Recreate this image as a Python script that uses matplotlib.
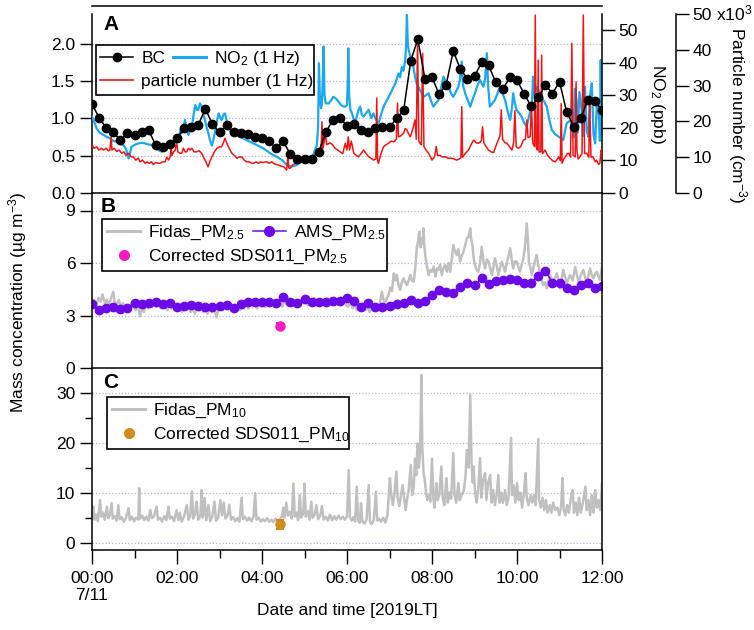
import numpy as np
import matplotlib
matplotlib.use("Agg")
import matplotlib.pyplot as plt
from matplotlib.lines import Line2D
from matplotlib.patches import Rectangle

plt.rcParams["font.family"] = ["Liberation Sans", "DejaVu Sans"]
plt.rcParams["mathtext.fontset"] = "custom"
plt.rcParams["mathtext.rm"] = "Liberation Sans"
plt.rcParams["mathtext.it"] = "Liberation Sans:italic"
plt.rcParams["mathtext.bf"] = "Liberation Sans:bold"
plt.rcParams["mathtext.default"] = "regular"
FS = 12.5
plt.rcParams["font.size"] = FS

# ---- data (time in hours after 00:00 on 7/11) ----
# BC, 10 min resolution, ug m-3
bc = [1.19, 1.01, 0.87, 0.81, 0.71, 0.80, 0.77, 0.81, 0.84, 0.64, 0.62, 0.66,
      0.73, 0.87, 0.89, 0.91, 1.13, 0.92, 0.81, 0.91, 0.81, 0.80, 0.79, 0.75,
      0.73, 0.69, 0.60, 0.69, 0.52, 0.46, 0.46, 0.46, 0.55, 0.81, 0.98, 1.00,
      0.90, 0.92, 0.84, 0.81, 0.87, 0.88, 0.88, 1.00, 1.11, 1.77, 2.06, 1.53,
      1.55, 1.32, 1.45, 1.90, 1.66, 1.53, 1.56, 1.75, 1.71, 1.48, 1.39, 1.55,
      1.51, 1.33, 1.16, 1.28, 1.45, 1.33, 1.49, 1.09, 0.89, 1.00, 1.25, 1.23,
      1.11]
bc_t = np.arange(len(bc)) / 6.0

# AMS PM2.5, 10 min resolution
ams_pm25 = [3.64, 3.31, 3.45, 3.50, 3.37, 3.45, 3.70, 3.64, 3.70, 3.75, 3.64, 3.70,
            3.50, 3.56, 3.60, 3.56, 3.50, 3.50, 3.56, 3.60, 3.41, 3.64, 3.75, 3.79,
            3.79, 3.75, 3.70, 4.08, 3.79, 3.70, 3.94, 3.79, 3.79, 3.79, 3.83, 3.83,
            3.98, 3.83, 3.50, 3.70, 3.50, 3.50, 3.54, 3.64, 3.70, 3.89, 3.70, 3.83,
            4.17, 4.46, 4.36, 4.27, 4.65, 4.84, 4.74, 5.12, 4.78, 4.97, 5.03, 5.09,
            5.03, 4.84, 4.88, 5.28, 5.54, 4.88, 4.84, 4.55, 4.46, 4.74, 4.88, 4.59,
            4.70]
ams_t = np.arange(len(ams_pm25)) / 6.0

# NO2 (1 Hz), ppb: (time, value)
no2 = [(0.00, 23.4), (0.05, 22.0), (0.11, 19.8), (0.18, 18.5), (0.27, 17.8), (0.35, 17.2),
       (0.42, 16.8), (0.50, 16.0), (0.58, 15.7), (0.66, 15.0), (0.74, 14.7), (0.80, 13.5),
       (0.86, 10.6), (0.90, 12.5), (0.93, 14.2), (1.01, 14.8), (1.09, 15.2), (1.17, 15.4),
       (1.25, 15.2), (1.33, 14.9), (1.40, 14.7), (1.46, 14.2), (1.52, 13.7), (1.58, 13.0),
       (1.64, 12.7), (1.70, 13.2), (1.76, 13.7), (1.82, 14.5), (1.88, 15.2), (1.94, 16.0),
       (1.99, 16.8), (2.05, 17.5), (2.09, 19.5), (2.11, 18.3), (2.15, 20.0), (2.19, 22.4),
       (2.23, 19.0), (2.27, 17.8), (2.31, 19.5), (2.35, 20.3), (2.39, 24.0), (2.43, 27.0),
       (2.47, 25.5), (2.50, 25.5), (2.54, 27.5), (2.58, 26.5), (2.62, 24.0), (2.66, 22.4),
       (2.70, 20.0), (2.74, 18.3), (2.78, 16.0), (2.82, 14.5), (2.86, 16.5), (2.90, 19.3),
       (2.94, 22.0), (2.98, 24.4), (3.02, 23.0), (3.05, 22.4), (3.09, 24.0), (3.13, 24.4),
       (3.17, 22.0), (3.21, 20.3), (3.25, 19.0), (3.29, 18.3), (3.35, 18.0), (3.41, 17.8),
       (3.48, 17.3), (3.56, 16.8), (3.64, 16.2), (3.72, 15.7), (3.80, 15.2), (3.88, 14.7),
       (3.96, 14.2), (4.03, 13.7), (4.11, 13.0), (4.19, 12.2), (4.27, 11.6), (4.35, 11.1),
       (4.41, 10.6), (4.47, 10.1), (4.53, 9.3), (4.58, 8.6), (4.64, 8.3), (4.70, 8.1),
       (4.76, 8.4), (4.82, 8.6), (4.88, 9.2), (4.94, 9.6), (5.00, 9.8), (5.05, 10.1),
       (5.11, 10.4), (5.17, 10.6), (5.23, 12.5), (5.29, 14.7), (5.32, 20.0), (5.34, 39.8),
       (5.36, 30.0), (5.39, 26.0), (5.41, 27.5), (5.43, 35.0), (5.45, 44.9), (5.47, 30.0),
       (5.50, 27.5), (5.57, 27.5), (5.63, 28.5), (5.68, 29.5), (5.74, 29.0), (5.80, 28.0),
       (5.86, 27.0), (5.92, 26.5), (5.96, 26.5), (6.00, 27.0), (6.02, 35.0), (6.03, 44.4),
       (6.05, 30.0), (6.08, 25.5), (6.12, 24.4), (6.16, 22.5), (6.19, 21.4), (6.23, 23.5),
       (6.27, 25.5), (6.31, 26.5), (6.35, 24.0), (6.39, 23.4), (6.45, 24.5), (6.51, 25.5),
       (6.57, 23.0), (6.62, 24.4), (6.68, 22.5), (6.74, 21.4), (6.80, 24.0), (6.86, 26.5),
       (6.92, 28.0), (6.98, 29.5), (7.04, 31.0), (7.10, 32.6), (7.15, 34.0), (7.21, 36.7),
       (7.25, 35.5), (7.29, 38.7), (7.33, 37.5), (7.37, 40.8), (7.39, 45.0), (7.41, 54.6),
       (7.43, 46.0), (7.45, 43.9), (7.49, 42.0), (7.53, 41.8), (7.57, 38.0), (7.60, 35.7),
       (7.64, 33.5), (7.68, 32.6), (7.74, 31.0), (7.80, 29.5), (7.86, 30.0), (7.92, 30.6),
       (7.97, 28.5), (8.03, 26.5), (8.09, 27.5), (8.15, 28.5), (8.21, 32.0), (8.27, 35.7),
       (8.33, 34.0), (8.39, 32.6), (8.45, 30.5), (8.50, 29.5), (8.56, 31.0), (8.62, 32.6),
       (8.66, 35.0), (8.70, 40.3), (8.73, 33.0), (8.78, 30.6), (8.84, 28.5), (8.90, 26.5),
       (8.95, 28.5), (9.01, 30.6), (9.07, 33.0), (9.13, 34.7), (9.17, 33.5), (9.21, 32.6),
       (9.25, 35.0), (9.29, 42.9), (9.32, 33.0), (9.36, 26.5), (9.42, 27.5), (9.48, 28.5),
       (9.54, 30.5), (9.60, 32.6), (9.66, 30.5), (9.72, 28.5), (9.78, 25.0), (9.84, 22.4),
       (9.88, 26.0), (9.91, 30.6), (9.95, 27.5), (9.99, 25.5), (10.05, 24.5), (10.11, 23.4),
       (10.17, 21.5), (10.23, 20.3), (10.29, 24.0), (10.35, 27.5), (10.38, 35.7), (10.41, 30.0),
       (10.47, 32.6), (10.52, 31.0), (10.58, 29.5), (10.64, 28.0), (10.70, 26.5), (10.76, 22.5),
       (10.82, 19.3), (10.90, 18.0), (10.98, 17.3), (11.04, 16.8), (11.09, 16.3), (11.13, 19.0),
       (11.17, 21.4), (11.23, 22.0), (11.29, 22.4), (11.33, 17.0), (11.36, 32.0), (11.40, 28.5),
       (11.43, 18.5), (11.47, 31.0), (11.52, 25.5), (11.55, 17.5), (11.60, 32.6), (11.64, 19.0),
       (11.68, 17.3), (11.72, 30.0), (11.76, 33.7), (11.80, 18.0), (11.84, 15.2), (11.88, 28.0),
       (11.92, 25.5), (11.95, 16.0), (11.97, 40.8), (11.99, 18.0), (12.00, 25.0)]

# particle number (1 Hz), x10^3 cm-3
pn = [(0.00, 13.4), (0.05, 12.5), (0.11, 12.9), (0.16, 12.0), (0.22, 12.5), (0.27, 12.0),
      (0.33, 12.5), (0.38, 11.8), (0.42, 12.0), (0.45, 15.7), (0.47, 12.0), (0.52, 12.5),
      (0.58, 11.6), (0.64, 12.0), (0.70, 11.1), (0.75, 11.5), (0.80, 10.5), (0.86, 11.1),
      (0.92, 10.1), (0.97, 10.1), (1.03, 9.2), (1.09, 9.7), (1.13, 8.7), (1.19, 9.2),
      (1.25, 8.3), (1.29, 8.7), (1.35, 8.3), (1.40, 8.7), (1.44, 8.0), (1.50, 8.5),
      (1.56, 8.3), (1.60, 8.3), (1.66, 8.7), (1.72, 8.7), (1.76, 10.0), (1.80, 9.2),
      (1.84, 10.1), (1.86, 12.9), (1.88, 10.5), (1.92, 11.5), (1.96, 12.0), (1.99, 14.3),
      (2.02, 11.5), (2.07, 11.1), (2.11, 11.1), (2.15, 12.5), (2.19, 11.5), (2.23, 11.5),
      (2.27, 12.5), (2.31, 12.0), (2.35, 12.5), (2.40, 11.5), (2.46, 11.5), (2.52, 11.8),
      (2.58, 11.1), (2.62, 10.1), (2.66, 9.2), (2.70, 8.2), (2.73, 7.3), (2.77, 8.7),
      (2.82, 10.1), (2.88, 11.5), (2.94, 12.5), (3.00, 12.9), (3.05, 12.9), (3.09, 14.0),
      (3.13, 15.3), (3.17, 14.0), (3.21, 12.9), (3.25, 12.0), (3.29, 11.1), (3.35, 10.5),
      (3.41, 9.7), (3.47, 10.1), (3.52, 10.1), (3.58, 9.2), (3.64, 8.7), (3.70, 8.7),
      (3.76, 8.3), (3.80, 8.3), (3.86, 8.7), (3.92, 8.3), (3.96, 8.7), (4.02, 8.5),
      (4.08, 8.7), (4.11, 8.7), (4.17, 8.3), (4.23, 8.7), (4.27, 8.3), (4.33, 8.0),
      (4.39, 7.8), (4.45, 7.5), (4.51, 7.3), (4.55, 6.9), (4.58, 6.4), (4.61, 10.5),
      (4.63, 7.0), (4.66, 6.9), (4.72, 7.8), (4.78, 8.3), (4.84, 8.7), (4.90, 8.7),
      (4.96, 9.0), (5.05, 9.2), (5.11, 9.5), (5.17, 9.7), (5.23, 10.5), (5.29, 11.1),
      (5.35, 11.5), (5.39, 12.0), (5.41, 19.9), (5.43, 12.5), (5.46, 14.0), (5.49, 17.0),
      (5.52, 13.5), (5.60, 14.0), (5.66, 13.5), (5.72, 12.5), (5.78, 12.0), (5.84, 11.5),
      (5.90, 11.0), (5.96, 13.9), (6.00, 12.0), (6.03, 15.7), (6.06, 12.0), (6.10, 14.5),
      (6.16, 11.1), (6.22, 10.5), (6.27, 10.1), (6.33, 11.0), (6.39, 12.0), (6.45, 11.0),
      (6.51, 10.1), (6.57, 9.7), (6.62, 9.2), (6.68, 9.5), (6.70, 26.5), (6.72, 9.0),
      (6.74, 8.3), (6.80, 11.0), (6.86, 12.9), (6.92, 13.5), (6.98, 13.9), (7.04, 14.5),
      (7.10, 14.3), (7.16, 15.0), (7.19, 25.1), (7.21, 15.7), (7.27, 16.0), (7.33, 16.7),
      (7.37, 18.0), (7.41, 17.6), (7.45, 16.5), (7.49, 15.7), (7.55, 18.0), (7.60, 20.4),
      (7.63, 15.0), (7.66, 42.3), (7.69, 14.5), (7.72, 13.9), (7.75, 13.5), (7.78, 39.0),
      (7.81, 13.0), (7.86, 12.0), (7.92, 11.1), (8.00, 9.2), (8.06, 10.1), (8.10, 13.0),
      (8.13, 10.5), (8.18, 10.5), (8.24, 10.1), (8.31, 10.1), (8.38, 9.7), (8.46, 9.7),
      (8.52, 9.5), (8.58, 9.2), (8.64, 9.5), (8.68, 9.8), (8.70, 24.1), (8.72, 10.0),
      (8.78, 11.0), (8.86, 12.0), (8.92, 13.5), (8.98, 14.8), (9.04, 14.0), (9.10, 13.9),
      (9.16, 14.5), (9.19, 18.5), (9.22, 14.0), (9.27, 13.0), (9.33, 12.0), (9.39, 11.5),
      (9.45, 11.3), (9.50, 13.0), (9.56, 14.8), (9.60, 16.0), (9.63, 23.2), (9.66, 15.0),
      (9.72, 14.0), (9.76, 13.9), (9.82, 13.0), (9.88, 12.0), (9.92, 14.0), (9.95, 23.0),
      (9.98, 13.0), (10.03, 12.5), (10.09, 13.0), (10.15, 14.8), (10.20, 15.0), (10.23, 20.4),
      (10.26, 15.5), (10.31, 15.7), (10.34, 25.0), (10.37, 14.0), (10.41, 13.0), (10.43, 49.7),
      (10.45, 13.0), (10.48, 12.0), (10.50, 37.1), (10.52, 11.5), (10.56, 11.5), (10.58, 38.5),
      (10.60, 11.0), (10.66, 12.0), (10.72, 10.5), (10.78, 9.7), (10.84, 9.0), (10.90, 8.7),
      (10.95, 9.5), (10.98, 10.1), (11.02, 9.0), (11.04, 25.0), (11.06, 8.3), (11.10, 9.5),
      (11.14, 10.1), (11.18, 11.0), (11.22, 11.1), (11.26, 10.0), (11.29, 41.8), (11.32, 10.5),
      (11.37, 10.1), (11.39, 31.0), (11.41, 12.0), (11.44, 9.5), (11.48, 10.1), (11.53, 11.0),
      (11.56, 49.7), (11.59, 11.0), (11.64, 11.1), (11.69, 10.0), (11.71, 27.0), (11.74, 10.0),
      (11.79, 10.1), (11.84, 8.7), (11.87, 9.2), (11.92, 8.0), (11.95, 8.3), (11.98, 12.0),
      (12.00, 11.1)]

# Fidas PM2.5, ug m-3
fidas_pm25 = [(0.00, 3.7), (0.05, 3.9), (0.10, 3.6), (0.15, 4.0), (0.20, 3.8), (0.25, 4.2),
              (0.30, 3.7), (0.35, 3.9), (0.40, 3.6), (0.45, 4.0), (0.50, 4.35), (0.53, 3.8),
              (0.58, 3.6), (0.63, 3.9), (0.68, 3.5), (0.73, 3.7), (0.78, 3.4), (0.83, 3.6),
              (0.88, 3.4), (0.93, 3.7), (0.98, 3.5), (1.03, 3.3), (1.08, 3.6), (1.13, 2.95),
              (1.17, 3.4), (1.22, 3.2), (1.27, 3.6), (1.32, 3.4), (1.37, 3.7), (1.42, 3.5),
              (1.47, 3.8), (1.52, 3.5), (1.57, 3.6), (1.62, 3.4), (1.67, 3.7), (1.72, 3.5),
              (1.77, 3.3), (1.82, 3.6), (1.87, 3.4), (1.92, 3.7), (1.97, 3.5), (2.02, 3.3),
              (2.07, 3.5), (2.12, 3.2), (2.17, 3.6), (2.22, 3.3), (2.27, 3.5), (2.32, 3.2),
              (2.37, 3.4), (2.42, 3.1), (2.47, 3.5), (2.52, 3.3), (2.57, 3.6), (2.62, 3.2),
              (2.67, 3.4), (2.72, 3.1), (2.77, 3.5), (2.82, 3.2), (2.87, 3.4), (2.93, 2.9),
              (2.98, 3.4), (3.03, 3.6), (3.08, 3.3), (3.13, 3.5), (3.18, 3.4), (3.23, 3.6),
              (3.28, 3.3), (3.33, 3.5), (3.38, 3.4), (3.43, 3.6), (3.48, 3.3), (3.53, 3.5),
              (3.58, 3.4), (3.63, 3.7), (3.68, 3.4), (3.73, 3.6), (3.78, 3.5), (3.83, 3.7),
              (3.88, 3.4), (3.93, 3.6), (3.98, 3.5), (4.03, 3.7), (4.08, 3.5), (4.13, 3.8),
              (4.18, 3.6), (4.23, 3.7), (4.28, 3.5), (4.33, 3.8), (4.38, 3.6), (4.43, 3.7),
              (4.48, 3.5), (4.53, 3.9), (4.58, 3.6), (4.63, 3.8), (4.68, 3.6), (4.73, 3.9),
              (4.78, 3.7), (4.83, 3.8), (4.88, 3.6), (4.93, 3.9), (4.98, 3.7), (5.03, 3.8),
              (5.08, 3.6), (5.13, 3.9), (5.18, 3.7), (5.23, 4.0), (5.28, 3.7), (5.33, 3.8),
              (5.38, 3.6), (5.43, 3.9), (5.48, 3.7), (5.53, 3.8), (5.58, 3.6), (5.63, 4.0),
              (5.68, 3.7), (5.73, 3.9), (5.78, 3.6), (5.83, 3.8), (5.88, 3.7), (5.93, 4.0),
              (5.98, 3.6), (6.03, 3.5), (6.08, 3.8), (6.13, 3.4), (6.18, 3.6), (6.23, 3.3),
              (6.28, 3.6), (6.33, 3.4), (6.38, 3.7), (6.43, 3.3), (6.48, 3.5), (6.53, 3.2),
              (6.58, 3.5), (6.63, 3.3), (6.68, 3.6), (6.73, 3.4), (6.78, 3.8), (6.82, 4.36),
              (6.86, 3.9), (6.90, 3.7), (6.94, 4.0), (6.98, 4.17), (7.02, 4.6), (7.06, 4.4),
              (7.10, 5.41), (7.14, 5.0), (7.17, 5.31), (7.21, 4.8), (7.25, 4.46), (7.29, 4.9),
              (7.33, 5.12), (7.37, 4.9), (7.41, 4.74), (7.45, 5.0), (7.49, 5.31), (7.53, 5.0),
              (7.57, 4.93), (7.61, 5.8), (7.64, 6.84), (7.67, 7.2), (7.70, 7.79), (7.73, 6.9),
              (7.76, 7.41), (7.78, 7.1), (7.80, 7.98), (7.82, 7.0), (7.84, 6.46), (7.88, 5.8),
              (7.92, 5.31), (7.96, 5.6), (8.00, 5.50), (8.04, 5.8), (8.08, 5.22), (8.12, 5.7),
              (8.15, 5.60), (8.19, 5.9), (8.23, 5.31), (8.27, 5.7), (8.31, 5.88), (8.35, 5.5),
              (8.39, 6.0), (8.43, 5.50), (8.47, 6.3), (8.50, 7.03), (8.54, 6.7), (8.58, 6.46),
              (8.62, 6.8), (8.66, 6.08), (8.70, 6.4), (8.74, 6.65), (8.78, 7.0), (8.82, 7.41),
              (8.86, 7.5), (8.90, 7.98), (8.92, 7.4), (8.95, 7.03), (8.98, 6.3), (9.01, 5.88),
              (9.05, 5.6), (9.09, 5.50), (9.13, 6.0), (9.17, 6.93), (9.21, 6.1), (9.25, 5.69),
              (9.29, 6.2), (9.33, 6.08), (9.37, 5.7), (9.41, 5.31), (9.45, 5.8), (9.48, 6.27),
              (9.52, 5.9), (9.56, 5.31), (9.60, 5.7), (9.64, 6.08), (9.68, 5.8), (9.72, 5.50),
              (9.76, 6.0), (9.80, 6.4), (9.84, 6.84), (9.88, 6.1), (9.91, 5.69), (9.95, 6.1),
              (9.99, 6.08), (10.03, 5.8), (10.07, 5.50), (10.11, 5.9), (10.15, 6.27), (10.19, 7.0),
              (10.23, 8.26), (10.26, 7.2), (10.28, 6.08), (10.32, 5.7), (10.35, 5.31), (10.40, 5.9),
              (10.46, 6.46), (10.50, 5.9), (10.54, 5.50), (10.58, 5.0), (10.62, 4.74), (10.66, 4.9),
              (10.70, 4.55), (10.74, 5.0), (10.78, 5.31), (10.82, 5.0), (10.86, 4.93), (10.90, 5.2),
              (10.94, 5.41), (10.98, 4.9), (11.01, 4.55), (11.05, 5.1), (11.09, 5.60), (11.13, 5.2),
              (11.17, 4.84), (11.21, 5.1), (11.25, 5.31), (11.31, 5.0), (11.37, 5.78), (11.41, 5.3),
              (11.45, 4.93), (11.50, 5.3), (11.56, 5.60), (11.60, 5.2), (11.64, 4.84), (11.68, 5.3),
              (11.72, 5.69), (11.76, 5.3), (11.80, 5.12), (11.84, 5.4), (11.88, 5.50), (11.92, 5.2),
              (11.95, 5.03), (11.98, 5.5), (12.00, 5.78)]

# Fidas PM10, ug m-3
fidas_pm10 = [(0.00, 5.5), (0.03, 7.2), (0.06, 4.6), (0.10, 5.6), (0.14, 4.3), (0.19, 8.5),
              (0.22, 5.2), (0.26, 6.0), (0.30, 4.6), (0.35, 7.2), (0.38, 4.9), (0.42, 5.5),
              (0.46, 7.9), (0.49, 4.8), (0.54, 5.3), (0.58, 4.4), (0.62, 7.5), (0.65, 4.7),
              (0.70, 5.1), (0.75, 4.2), (0.80, 5.0), (0.86, 6.9), (0.89, 4.5), (0.94, 5.2),
              (0.99, 4.3), (1.04, 5.0), (1.09, 4.6), (1.11, 10.9), (1.13, 4.8), (1.18, 5.4),
              (1.23, 4.5), (1.28, 5.2), (1.33, 4.4), (1.37, 6.5), (1.41, 4.9), (1.46, 5.3),
              (1.52, 7.2), (1.55, 4.6), (1.60, 5.0), (1.65, 4.2), (1.70, 5.3), (1.75, 4.5),
              (1.80, 7.2), (1.83, 4.8), (1.88, 5.2), (1.93, 4.3), (1.99, 6.5), (2.03, 4.5),
              (2.07, 6.0), (2.11, 4.2), (2.16, 5.1), (2.23, 7.5), (2.27, 4.6), (2.31, 5.3),
              (2.35, 10.2), (2.38, 4.8), (2.42, 5.6), (2.46, 8.2), (2.50, 4.6), (2.55, 5.3),
              (2.58, 10.5), (2.61, 5.0), (2.65, 8.9), (2.69, 4.5), (2.74, 7.5), (2.78, 4.3),
              (2.83, 5.2), (2.88, 8.2), (2.92, 4.4), (2.97, 5.0), (3.02, 8.5), (3.06, 5.5),
              (3.10, 8.0), (3.14, 4.8), (3.19, 5.4), (3.23, 7.6), (3.27, 4.6), (3.32, 5.1),
              (3.37, 4.3), (3.42, 4.9), (3.47, 4.2), (3.52, 9.0), (3.55, 4.7), (3.60, 5.2),
              (3.65, 4.4), (3.70, 5.0), (3.75, 4.3), (3.80, 5.2), (3.84, 9.9), (3.87, 4.6),
              (3.92, 5.0), (3.97, 4.2), (4.02, 4.7), (4.07, 4.3), (4.12, 4.9), (4.17, 4.2),
              (4.22, 4.6), (4.27, 4.1), (4.32, 4.8), (4.37, 4.2), (4.42, 4.7), (4.47, 5.3),
              (4.50, 7.0), (4.53, 5.0), (4.57, 8.0), (4.61, 5.4), (4.65, 6.2), (4.70, 4.8),
              (4.74, 11.8), (4.77, 5.2), (4.81, 6.0), (4.85, 4.5), (4.89, 9.5), (4.92, 5.0),
              (4.97, 5.8), (5.00, 11.8), (5.03, 5.2), (5.08, 6.3), (5.12, 4.6), (5.16, 8.2),
              (5.19, 5.0), (5.24, 5.6), (5.28, 7.5), (5.32, 4.7), (5.37, 5.4), (5.41, 7.3),
              (5.45, 4.6), (5.50, 5.2), (5.55, 4.4), (5.60, 5.6), (5.65, 4.5), (5.70, 5.3),
              (5.75, 4.6), (5.80, 5.4), (5.85, 4.7), (5.90, 5.2), (5.95, 4.6), (6.00, 5.3),
              (6.04, 14.5), (6.07, 5.0), (6.11, 4.4), (6.15, 5.1), (6.19, 4.2), (6.23, 11.2),
              (6.26, 4.5), (6.30, 4.0), (6.33, 7.9), (6.36, 4.3), (6.41, 3.8), (6.46, 4.6),
              (6.51, 11.5), (6.54, 4.2), (6.58, 3.7), (6.63, 4.5), (6.68, 10.2), (6.71, 4.4),
              (6.75, 4.8), (6.80, 4.2), (6.85, 5.0), (6.90, 4.0), (6.95, 5.5), (6.98, 9.0),
              (7.01, 12.9), (7.04, 9.5), (7.08, 7.5), (7.12, 10.0), (7.16, 14.2), (7.19, 9.0),
              (7.23, 7.3), (7.27, 9.5), (7.31, 11.5), (7.35, 8.5), (7.38, 6.5), (7.42, 9.0),
              (7.45, 10.5), (7.50, 15.5), (7.53, 9.5), (7.57, 11.0), (7.60, 16.8), (7.63, 13.5),
              (7.66, 19.8), (7.69, 15.0), (7.72, 18.0), (7.75, 33.5), (7.77, 19.8), (7.80, 14.0),
              (7.83, 12.5), (7.86, 10.0), (7.89, 8.5), (7.93, 9.5), (7.96, 8.2), (8.00, 16.8),
              (8.03, 9.0), (8.06, 7.0), (8.10, 11.9), (8.13, 8.5), (8.17, 9.5), (8.22, 15.2),
              (8.25, 9.0), (8.29, 7.5), (8.34, 12.9), (8.37, 8.0), (8.41, 10.0), (8.45, 8.8),
              (8.50, 17.9), (8.53, 9.5), (8.57, 8.0), (8.62, 11.9), (8.65, 8.5), (8.70, 9.5),
              (8.75, 10.5), (8.79, 13.5), (8.82, 18.5), (8.86, 15.0), (8.90, 29.5), (8.93, 16.0),
              (8.96, 12.0), (8.98, 15.2), (9.01, 10.5), (9.05, 8.0), (9.09, 11.0), (9.13, 16.9),
              (9.16, 9.0), (9.20, 12.5), (9.25, 13.9), (9.28, 8.5), (9.32, 12.0), (9.37, 13.5),
              (9.40, 8.0), (9.44, 10.5), (9.48, 7.5), (9.52, 9.5), (9.56, 13.5), (9.59, 8.0),
              (9.63, 10.0), (9.67, 8.0), (9.72, 10.5), (9.76, 7.5), (9.80, 9.0), (9.86, 20.9),
              (9.88, 9.5), (9.92, 11.5), (9.96, 8.0), (10.00, 11.9), (10.04, 8.5), (10.08, 10.0),
              (10.12, 7.0), (10.17, 10.5), (10.20, 13.9), (10.23, 9.0), (10.27, 7.5), (10.32, 9.5),
              (10.36, 8.0), (10.40, 9.5), (10.44, 7.5), (10.50, 20.7), (10.52, 8.5), (10.56, 7.0),
              (10.60, 9.0), (10.64, 6.5), (10.68, 8.5), (10.72, 6.0), (10.77, 7.5), (10.81, 6.0),
              (10.85, 8.0), (10.90, 6.5), (10.95, 7.0), (11.00, 5.5), (11.04, 7.5), (11.07, 12.9),
              (11.10, 6.5), (11.14, 5.5), (11.18, 7.5), (11.22, 6.0), (11.26, 8.5), (11.31, 10.5),
              (11.34, 6.0), (11.38, 8.0), (11.42, 5.5), (11.46, 9.0), (11.50, 6.0), (11.55, 8.0),
              (11.61, 11.2), (11.64, 6.5), (11.68, 8.5), (11.72, 5.5), (11.76, 9.5), (11.80, 6.0),
              (11.84, 10.5), (11.88, 7.0), (11.92, 8.5), (11.96, 6.5), (12.00, 11.9)]

# corrected SDS011 means (time, value, error)
sds_pm25 = (4.42, 2.42, 0.18)
sds_pm10 = (4.42, 3.7, 0.9)

xtick_labels = ["00:00\n7/11", "02:00", "04:00", "06:00", "08:00", "10:00", "12:00"]

C_BLUE = "#1ba8ec"
C_RED = "#f01414"
C_GRAY = "#c0c0c0"
C_PURPLE = "#6b0ae6"
C_MAGENTA = "#ff1ac6"
C_ORANGE = "#d08c1c"
C_GRID = "#b4b4e6"

W, H = 754, 630
fig = plt.figure(figsize=(W / 100, H / 100), dpi=100)
fig.patch.set_facecolor("white")


def px_axes(x0, y0, x1, y1):
    ax = fig.add_axes([x0 / W, 1 - y1 / H, (x1 - x0) / W, (y1 - y0) / H])
    ax.patch.set_visible(False)
    return ax


def style_y(ax):
    ax.tick_params(axis="y", direction="out", length=9, width=1, pad=3, labelsize=FS)
    ax.tick_params(axis="y", which="minor", direction="out", length=5, width=1)
    ax.yaxis.grid(True, linestyle=(0, (1, 1.6)), color=C_GRID, linewidth=0.9)
    ax.set_axisbelow(True)
    for s in ax.spines.values():
        s.set_linewidth(1.1)


# ---------------- panel A ----------------
axA = px_axes(92, 6, 602, 193)
axA.set_xlim(0, 12)
axA.set_ylim(0, 187 / 74.7)
axA.set_yticks([0, 0.5, 1.0, 1.5, 2.0])
axA.set_yticklabels(["0.0", "0.5", "1.0", "1.5", "2.0"])
axA.spines["left"].set_bounds(0, 2.4)
axA.spines["right"].set_visible(False)
axA.tick_params(axis="x", bottom=False, labelbottom=False)
style_y(axA)

ax_no2 = axA.twinx()
ax_no2.patch.set_visible(False)
t, v = np.array(no2).T
ax_no2.plot(t, v, color=C_BLUE, lw=1.6)
ax_no2.set_ylim(0, 187 / 3.26)
ax_no2.set_yticks([0, 10, 20, 30, 40, 50])
for s in ["top", "bottom", "left"]:
    ax_no2.spines[s].set_visible(False)
ax_no2.spines["right"].set_bounds(0, 55)
ax_no2.spines["right"].set_linewidth(1.1)
ax_no2.tick_params(axis="y", direction="out", length=9, width=1, pad=3, labelsize=FS)
ax_no2.set_ylabel("NO$_2$ (ppb)", rotation=270, va="center")
ax_no2.yaxis.set_label_coords(1.108, 0.476)

ax_pn = axA.twinx()
ax_pn.patch.set_visible(False)
t, v = np.array(pn).T
ax_pn.plot(t, v, color=C_RED, lw=1.1)
ax_pn.set_ylim(0, 187 / 3.58)
ax_pn.set_yticks([0, 10, 20, 30, 40, 50])
for s in ["top", "bottom", "left"]:
    ax_pn.spines[s].set_visible(False)
ax_pn.spines["right"].set_position(("axes", 1.145))
ax_pn.spines["right"].set_bounds(0, 50)
ax_pn.spines["right"].set_linewidth(1.1)
ax_pn.tick_params(axis="y", direction="out", length=9, width=1, pad=3, labelsize=FS)
ax_pn.set_ylabel("Particle number (cm$^{-3}$)", rotation=270, va="center")
ax_pn.yaxis.set_label_coords(1.265, 0.415)
fig.text(716 / W, 1 - 13 / H, "x10$^3$", ha="left", va="center", fontsize=FS)

# BC on top of the 1 Hz traces
ax_bc = fig.add_axes(axA.get_position(), sharex=axA, sharey=axA)
ax_bc.set_axis_off()
h_bc, = ax_bc.plot(bc_t, bc, color="black", lw=1.1, marker="o", ms=6)

# ---------------- panel B ----------------
axB = px_axes(92, 193, 602, 368)
axB.set_xlim(0, 12)
axB.set_ylim(0, 10.0)
axB.set_yticks([0, 3, 6, 9])
axB.spines["top"].set_visible(False)
axB.tick_params(axis="x", bottom=False, labelbottom=False)
style_y(axB)
t, v = np.array(fidas_pm25).T
axB.plot(t, v, color=C_GRAY, lw=1.8)
axB.plot(ams_t, ams_pm25, color=C_PURPLE, lw=1.1, marker="o", ms=6)
axB.errorbar([sds_pm25[0]], [sds_pm25[1]], yerr=[sds_pm25[2]], fmt="o", color=C_MAGENTA,
             ms=6.5, elinewidth=1.5, capsize=3, capthick=1.5)

# ---------------- panel C ----------------
axC = px_axes(92, 368, 602, 550)
axC.set_xlim(0, 12)
axC.set_ylim(-1.46, 34.9)
axC.set_yticks([0, 10, 20, 30])
axC.set_yticks([5, 15, 25], minor=True)
axC.spines["top"].set_visible(False)
style_y(axC)
t, v = np.array(fidas_pm10).T
axC.plot(t, v, color=C_GRAY, lw=1.8)
axC.errorbar([sds_pm10[0]], [sds_pm10[1]], yerr=[sds_pm10[2]], fmt="o", color=C_ORANGE,
             ms=6.5, elinewidth=1.5, capsize=3, capthick=1.5)
axC.set_xticks(np.arange(0, 13, 2))
axC.set_xticks(np.arange(1, 12, 2), minor=True)
axC.set_xticklabels(xtick_labels)
axC.tick_params(axis="x", direction="out", length=10, width=1, pad=5, labelsize=FS)
axC.tick_params(axis="x", which="minor", direction="out", length=6, width=1)

# ---------------- texts ----------------
fig.text(18 / W, 1 - 302 / H, "Mass concentration (µg m$^{-3}$)", rotation=90,
         ha="center", va="center", fontsize=FS)
fig.text(347 / W, 1 - 611 / H, "Date and time [2019LT]", ha="center", va="center", fontsize=FS)
for letter, (x, y) in zip("ABC", [(103, 25), (101, 207), (103, 383)]):
    fig.text(x / W, 1 - y / H, letter, fontsize=15, fontweight="bold", ha="left", va="center")

# ---------------- legends ----------------
leg_kw = dict(frameon=False, loc="upper left", borderaxespad=0, borderpad=0.2,
              handlelength=1.9, handletextpad=0.45, columnspacing=0.45, fontsize=FS,
              bbox_transform=fig.transFigure)


def frame(x0, y0, x1, y1):
    fig.add_artist(Rectangle((x0 / W, 1 - y1 / H), (x1 - x0) / W, (y1 - y0) / H,
                             transform=fig.transFigure, facecolor="white",
                             edgecolor="black", lw=1.2, zorder=4))


h_no2 = Line2D([], [], color=C_BLUE, lw=2.2)
h_pn = Line2D([], [], color=C_RED, lw=1.2)
frame(96, 45, 314, 95)
fig.legend([h_bc, h_no2], ["BC", "NO$_2$ (1 Hz)"], ncol=2,
           bbox_to_anchor=(97 / W, 1 - 46 / H), **leg_kw)
fig.legend([h_pn], ["particle number (1 Hz)"], bbox_to_anchor=(97 / W, 1 - 70 / H), **leg_kw)

h_f25 = Line2D([], [], color=C_GRAY, lw=2.2)
h_ams = Line2D([], [], color=C_PURPLE, lw=1.1, marker="o", ms=7)
h_s25 = Line2D([], [], color=C_MAGENTA, ls="none", marker="o", ms=7)
frame(102, 219, 387, 271)
fig.legend([h_f25, h_ams], ["Fidas_PM$_{2.5}$", "AMS_PM$_{2.5}$"], ncol=2,
           bbox_to_anchor=(104 / W, 1 - 220 / H), **leg_kw)
fig.legend([h_s25], ["Corrected SDS011_PM$_{2.5}$"], bbox_to_anchor=(104 / W, 1 - 244 / H), **leg_kw)

h_f10 = Line2D([], [], color=C_GRAY, lw=2.2)
h_s10 = Line2D([], [], color=C_ORANGE, ls="none", marker="o", ms=7)
frame(107, 397, 349, 449)
fig.legend([h_f10], ["Fidas_PM$_{10}$"], bbox_to_anchor=(109 / W, 1 - 398 / H), **leg_kw)
fig.legend([h_s10], ["Corrected SDS011_PM$_{10}$"], bbox_to_anchor=(109 / W, 1 - 422 / H), **leg_kw)

fig.savefig("out.png", dpi=100, facecolor="white")
